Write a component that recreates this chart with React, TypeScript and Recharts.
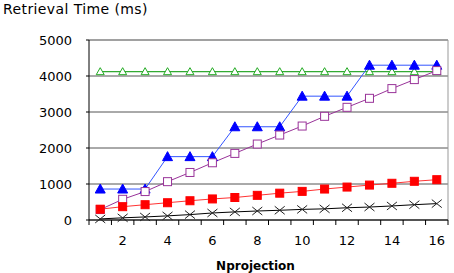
import { LineChart, Line, XAxis, YAxis, CartesianGrid, ReferenceLine } from 'recharts';

const nProjection = [1, 2, 3, 4, 5, 6, 7, 8, 9, 10, 11, 12, 13, 14, 15, 16];
const constTime = [4120, 4120, 4120, 4120, 4120, 4120, 4120, 4120, 4120, 4120, 4120, 4120, 4120, 4120, 4120, 4120];
const stepTime = [860, 860, 860, 1760, 1760, 1760, 2590, 2590, 2590, 3440, 3440, 3440, 4300, 4300, 4300, 4300];
const linearTime = [290, 575, 790, 1065, 1320, 1590, 1850, 2110, 2360, 2610, 2880, 3130, 3380, 3650, 3900, 4150];
const redTime = [300, 370, 425, 480, 535, 585, 625, 685, 745, 795, 860, 915, 970, 1020, 1075, 1120];
const blackTime = [30, 60, 85, 115, 150, 195, 225, 250, 270, 295, 310, 340, 360, 390, 425, 455];
const yTicks = [0, 1000, 2000, 3000, 4000, 5000];
const xLabelTicks = [2, 4, 6, 8, 10, 12, 14, 16];

const data = nProjection.map((n, i) => ({
  n,
  constTime: constTime[i],
  stepTime: stepTime[i],
  linearTime: linearTime[i],
  redTime: redTime[i],
  blackTime: blackTime[i],
}));

// tick marks sit between categories
const boundaryTicks = [...nProjection.map((n) => n - 0.5), nProjection[nProjection.length - 1] + 0.5];
const xDomain = [boundaryTicks[0], boundaryTicks[boundaryTicks.length - 1]];

const font = '"DejaVu Sans", sans-serif';

const triangle = (fill: string, stroke: string, r: number) => (props: any) => {
  const { cx, cy, index } = props;
  const pts = `${cx},${cy - r} ${cx - r},${cy + r - 1} ${cx + r},${cy + r - 1}`;
  return <polygon key={`t${index}`} points={pts} fill={fill} stroke={stroke} strokeWidth={1} />;
};

const square = (fill: string, stroke: string) => (props: any) => {
  const { cx, cy, index } = props;
  return <rect key={`s${index}`} x={cx - 4} y={cy - 4} width={8} height={8} fill={fill} stroke={stroke} strokeWidth={1} />;
};

const cross = (props: any) => {
  const { cx, cy, index } = props;
  return (
    <path
      key={`c${index}`}
      d={`M${cx - 5},${cy - 4} L${cx + 5},${cy + 4} M${cx - 5},${cy + 4} L${cx + 5},${cy - 4}`}
      stroke="#222"
      strokeWidth={1}
      fill="none"
    />
  );
};

export default function App() {
  return (
    <div style={{ position: 'absolute', left: 0, top: 0, width: 454, height: 273, background: '#fff', fontFamily: font }}>
      <div style={{ position: 'absolute', left: 3, top: 1, fontSize: 14, letterSpacing: 0.4, color: '#000' }}>Retrieval Time (ms)</div>
      <LineChart width={454} height={273} data={data} margin={{ top: 40, right: 6, left: 0, bottom: 0 }}>
        <CartesianGrid vertical={false} stroke="#555" />
        <XAxis
          xAxisId="a"
          dataKey="n"
          type="number"
          domain={xDomain}
          ticks={boundaryTicks}
          tickFormatter={() => ''}
          tickSize={5}
          height={8}
          stroke="#000"
          interval={0}
        />
        <XAxis
          xAxisId="b"
          dataKey="n"
          type="number"
          domain={xDomain}
          ticks={xLabelTicks}
          tickLine={false}
          axisLine={false}
          tickSize={0}
          tickMargin={8}
          height={45}
          interval={0}
          tick={{ fill: '#000', fontSize: 13, fontFamily: font }}
          label={{ value: 'Nprojection', position: 'insideBottom', offset: 3, dx: -13, fill: '#000', fontSize: 12, fontWeight: 'bold', fontFamily: font }}
        />
        <YAxis
          domain={[0, 5000]}
          ticks={yTicks}
          width={89}
          tickSize={3}
          tickMargin={14}
          stroke="#000"
          interval={0}
          tick={{ fill: '#000', fontSize: 13, fontFamily: font }}
        />
        <ReferenceLine xAxisId="a" y={5000} stroke="#999" />
        <ReferenceLine xAxisId="a" x={xDomain[1]} stroke="#999" />
        <Line xAxisId="a" dataKey="constTime" stroke="#33aa33" strokeWidth={1.3} dot={triangle('#fff', '#22aa22', 4)} isAnimationActive={false} />
        <Line xAxisId="a" dataKey="stepTime" type="linear" stroke="#3355ff" strokeWidth={1} dot={triangle('#0000ff', '#0000ff', 5)} isAnimationActive={false} />
        <Line xAxisId="a" dataKey="linearTime" type="linear" stroke="#993399" strokeWidth={1} dot={square('#fff', '#993399')} isAnimationActive={false} />
        <Line xAxisId="a" dataKey="redTime" type="linear" stroke="#ff3333" strokeWidth={1} dot={square('#ff0000', '#ff0000')} isAnimationActive={false} />
        <Line xAxisId="a" dataKey="blackTime" type="linear" stroke="#000" strokeWidth={1} dot={cross} isAnimationActive={false} />
      </LineChart>
    </div>
  );
}
